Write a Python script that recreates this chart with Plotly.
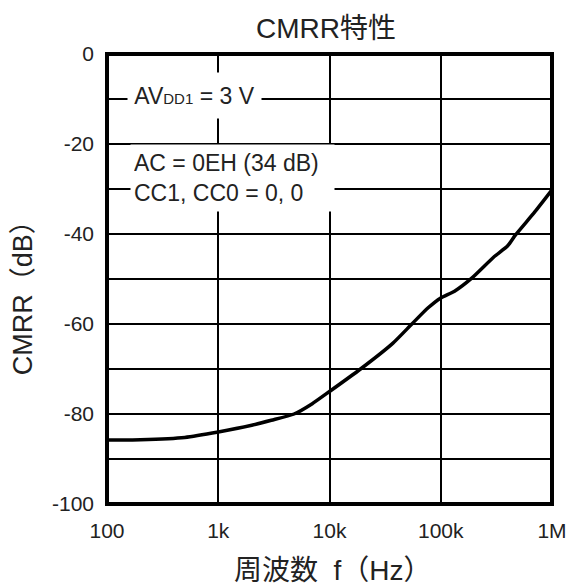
import plotly.graph_objects as go

# ---- data ----
freq_hz = [100, 200, 500, 1000, 2000, 3000, 4800, 7000, 10000, 19000, 37000, 55000,
           77000, 100000, 133000, 190000, 300000, 400000, 470000, 700000, 1000000]
cmrr_db = [-85.8, -85.7, -85.2, -84.0, -82.5, -81.4, -80.0, -77.7, -75.0, -70.0, -64.3, -60.0,
           -56.4, -54.2, -52.7, -49.8, -45.1, -42.6, -40.2, -35.1, -30.2]

x_tickvals = [100, 1000, 10000, 100000, 1000000]
x_ticktext = ["100", "1k", "10k", "100k", "1M"]
y_tickvals = [-100, -90, -80, -70, -60, -50, -40, -30, -20, -10, 0]
y_ticktext = ["-100", "", "-80", "", "-60", "", "-40", "", "-20", "", "0"]

title_text = "CMRR特性"
x_title = "周波数  f（Hz）"
y_title = "CMRR（dB）"
note1 = "AV<span style='font-size:15px'>DD1</span> = 3 V"
note2 = "AC = 0EH (34 dB)<br>CC1, CC0 = 0, 0"

FONT = "Liberation Sans, Arial, Noto Sans CJK JP, sans-serif"
TXT = "#222222"

fig = go.Figure()
fig.add_trace(go.Scatter(
    x=freq_hz, y=cmrr_db, mode="lines",
    line=dict(color="black", width=3.5, shape="spline", smoothing=0.6),
    hoverinfo="skip", showlegend=False,
))

fig.update_layout(
    width=579, height=585,
    margin=dict(l=107, r=19, t=54, b=81),
    paper_bgcolor="white", plot_bgcolor="white",
    font=dict(family=FONT, color=TXT),
    showlegend=False,
)

fig.update_xaxes(
    type="log", range=[2, 6],
    tickvals=x_tickvals, ticktext=x_ticktext,
    showgrid=True, gridcolor="black", gridwidth=1.5,
    zeroline=False, showline=False, ticks="",
    ticklabelstandoff=12,
    tickfont=dict(family=FONT, size=21, color=TXT),
)
fig.update_yaxes(
    range=[-100, 0],
    tickvals=y_tickvals, ticktext=y_ticktext,
    showgrid=True, gridcolor="black", gridwidth=1.5,
    zeroline=False, showline=False, ticks="",
    ticklabelstandoff=12,
    tickfont=dict(family=FONT, size=21, color=TXT),
)

# plot border
fig.add_shape(type="rect", xref="paper", yref="paper", x0=0, x1=1, y0=0, y1=1,
              line=dict(color="black", width=4), layer="above")

# in-plot notes (white boxes over the grid)
fig.add_annotation(
    x=2.783, y=-9.3, xref="x", yref="y", text=note1, showarrow=False,
    xanchor="center", yanchor="middle", bgcolor="white", borderpad=3,
    width=127, height=39,
    font=dict(family=FONT, size=23, color=TXT),
)
fig.add_annotation(
    x=2.2035, y=-27.6, xref="x", yref="y", text=note2, showarrow=False,
    xanchor="left", yanchor="middle", align="left", bgcolor="white", borderpad=3,
    width=197, height=60,
    font=dict(family=FONT, size=23, color=TXT),
)

# titles
fig.add_annotation(
    x=0.492, y=1, xref="paper", yref="paper", yshift=26, text=title_text,
    showarrow=False, xanchor="center", yanchor="middle",
    font=dict(family=FONT, size=28, color=TXT),
)
fig.add_annotation(
    x=0.508, y=0, xref="paper", yref="paper", yshift=-66, text=x_title,
    showarrow=False, xanchor="center", yanchor="middle",
    font=dict(family=FONT, size=28, color=TXT),
)
fig.add_annotation(
    x=0, y=0.473, xref="paper", yref="paper", xshift=-84, text=y_title,
    showarrow=False, xanchor="center", yanchor="middle", textangle=-90,
    font=dict(family=FONT, size=27, color=TXT),
)

fig.write_html("out.html")
